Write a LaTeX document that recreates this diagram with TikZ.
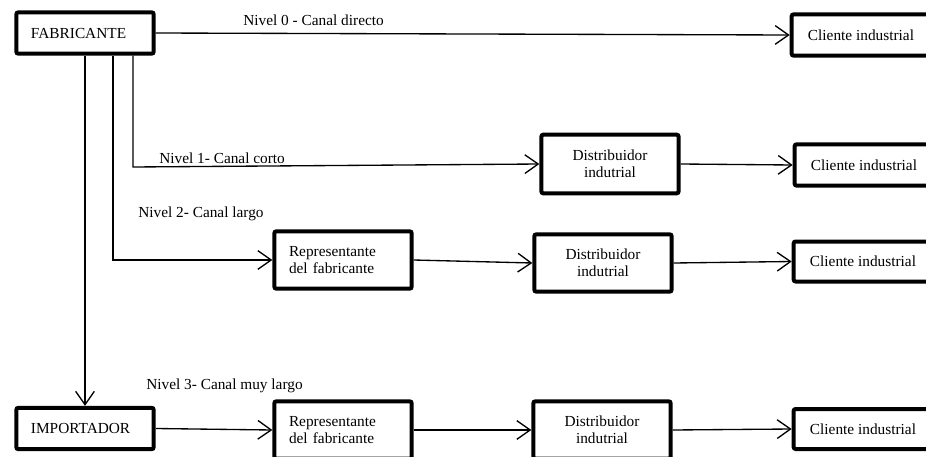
\documentclass[tikz,border=0pt]{standalone}
\usepackage{fontspec}
\setmainfont{Liberation Serif}
\usepackage{tikz}
\usetikzlibrary{arrows.meta,              % pointes de fleches
           positioning}

\begin{document}
\begin{tikzpicture}[x=0.75pt,y=-0.75pt,
  caja/.style={draw=black,line width=3pt,rounded corners=1.5pt,fill=white,
    minimum width=103pt,minimum height=31pt,inner sep=2pt,
    font=\fontsize{11.5}{13}\selectfont,align=center},
  izq/.style={text width=81pt,align=left},
  flecha/.style={line width=1pt,-{Straight Barb[length=10pt,width=14pt,line width=1pt]}},
  nivel/.style={font=\fontsize{11.5}{13}\selectfont,anchor=west,inner sep=0pt}]
\path[use as bounding box,clip](0,0)rectangle(926,457);
% cajas
\node[caja,izq] (fab) at (85,33) {FABRICANTE};
\node[caja,izq] (imp) at (85,428.5) {IMPORTADOR};
\node[caja,minimum width=104pt] (cli0) at (861,35) {Cliente industrial};
\node[caja,minimum height=44pt] (dis1) at (610,164) {Distribuidor\\indutrial};
\node[caja,minimum width=104pt] (cli1) at (864,165) {Cliente industrial};
\node[caja,izq,minimum height=43pt] (rep2) at (343,260) {Representante\\del fabricante};
\node[caja,minimum height=43pt] (dis2) at (603,263) {Distribuidor\\indutrial};
\node[caja,minimum width=104pt,minimum height=30pt] (cli2) at (863,261.5) {Cliente industrial};
\node[caja,izq,minimum height=43pt] (rep3) at (343,430) {Representante\\del fabricante};
\node[caja,minimum height=43pt] (dis3) at (602,430) {Distribuidor\\indutrial};
\node[caja,minimum width=104pt,minimum height=30pt] (cli3) at (863,429) {Cliente industrial};
% niveles
\node[nivel] (n0) at (243,20) {Nivel 0 - Canal directo};
\node[nivel] (n1) at (159,158) {Nivel 1- Canal corto};
\node[nivel] (n2) at (138,214) {Nivel 2- Canal largo};
\node[nivel] (n3) at (146,386) {Nivel 3- Canal muy largo};
% conexiones
\coordinate (c1) at (133,167);
\coordinate (c2) at (113,260);
\draw[flecha](fab.east)--(cli0.west);
\draw[flecha](fab.south -| c1)--(c1)--(dis1.west);
\draw[flecha](dis1.east)--(cli1.west);
\draw[flecha](fab.south -| c2)--(c2)--(rep2.west);
\draw[flecha](rep2.east)--(dis2.west);
\draw[flecha](dis2.east)--(cli2.west);
\draw[flecha](fab.south)--(imp.north);
\draw[flecha](imp.east)--(rep3.west);
\draw[flecha](rep3.east)--(dis3.west);
\draw[flecha](dis3.east)--(cli3.west);
\end{tikzpicture}
\end{document}
